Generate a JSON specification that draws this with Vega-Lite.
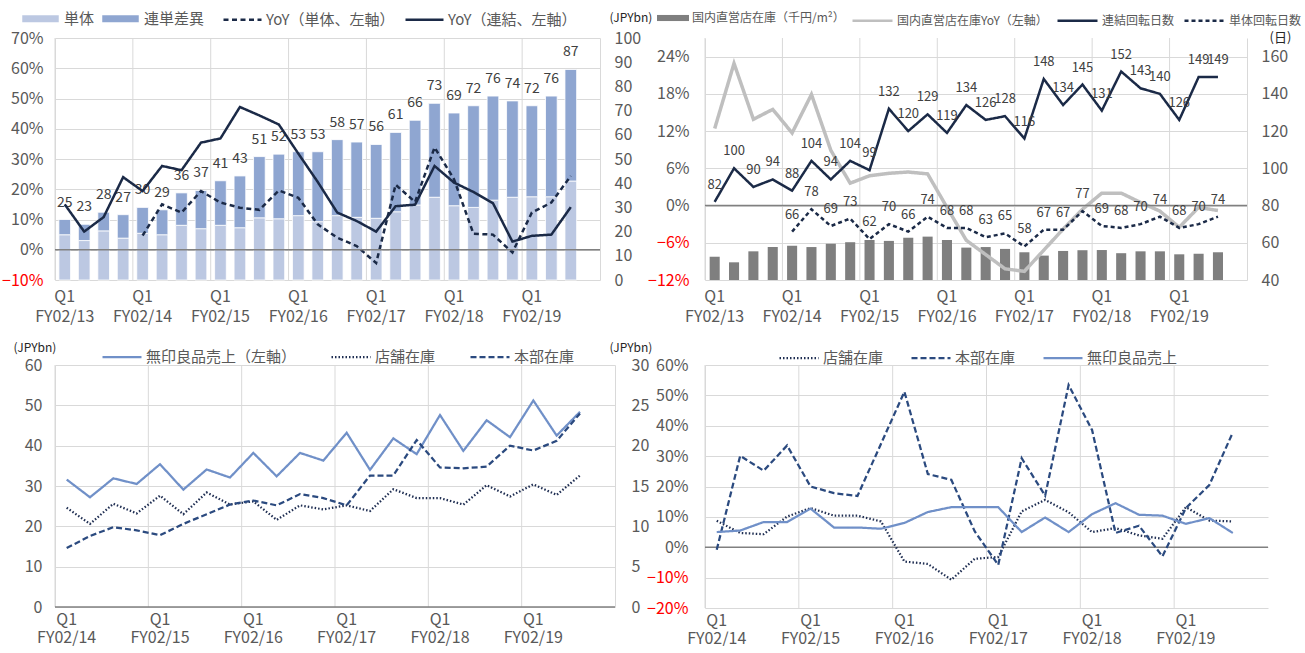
{
  "$schema": "https://vega.github.io/schema/vega-lite/v6.json",
  "background": "white",
  "padding": {"left": 1, "top": -1, "right": 5, "bottom": 0},
  "config": {
    "font": "Noto Sans CJK JP",
    "view": {"stroke": null},
    "axis": {"labelFont": "Noto Sans CJK JP", "labelFontSize": 16, "labelColor": "#595959", "ticks": false, "domain": false, "grid": false, "gridColor": "#D9D9D9", "titleFont": "Noto Sans CJK JP", "titleFontWeight": "normal", "titleColor": "#262626", "titleFontSize": 12, "labelOverlap": false, "labelBound": false},
    "legend": {"labelFont": "Noto Sans CJK JP", "labelColor": "#595959", "labelFontSize": 16, "orient": "none", "direction": "horizontal", "labelOffset": 4},
    "text": {"font": "Noto Sans CJK JP"}
  },
  "datasets": {
    "tl": [
      {"q":"FY02/13 Q1","単体":18.7,"連単差異":6.3,"t":25,"YoY（単体、左軸）":null,"YoY（連結、左軸）":0.15},
      {"q":"FY02/13 Q2","単体":16.3,"連単差異":6.7,"t":23,"YoY（単体、左軸）":null,"YoY（連結、左軸）":0.06},
      {"q":"FY02/13 Q3","単体":20.3,"連単差異":7.7,"t":28,"YoY（単体、左軸）":null,"YoY（連結、左軸）":0.108},
      {"q":"FY02/13 Q4","単体":17.3,"連単差異":9.7,"t":27,"YoY（単体、左軸）":null,"YoY（連結、左軸）":0.24},
      {"q":"FY02/14 Q1","単体":19.3,"連単差異":10.7,"t":30,"YoY（単体、左軸）":0.047,"YoY（連結、左軸）":0.194},
      {"q":"FY02/14 Q2","単体":18.7,"連単差異":10.3,"t":29,"YoY（単体、左軸）":0.15,"YoY（連結、左軸）":0.277},
      {"q":"FY02/14 Q3","単体":22.6,"連単差異":13.4,"t":36,"YoY（単体、左軸）":0.123,"YoY（連結、左軸）":0.263},
      {"q":"FY02/14 Q4","単体":21.2,"連単差異":15.8,"t":37,"YoY（単体、左軸）":0.194,"YoY（連結、左軸）":0.354},
      {"q":"FY02/15 Q1","単体":22.6,"連単差異":18.4,"t":41,"YoY（単体、左軸）":0.156,"YoY（連結、左軸）":0.368},
      {"q":"FY02/15 Q2","単体":21.6,"連単差異":21.4,"t":43,"YoY（単体、左軸）":0.139,"YoY（連結、左軸）":0.472},
      {"q":"FY02/15 Q3","単体":25.7,"連単差異":25.3,"t":51,"YoY（単体、左軸）":0.132,"YoY（連結、左軸）":0.444},
      {"q":"FY02/15 Q4","単体":25.3,"連単差異":26.7,"t":52,"YoY（単体、左軸）":0.196,"YoY（連結、左軸）":0.414},
      {"q":"FY02/16 Q1","単体":26.6,"連単差異":26.4,"t":53,"YoY（単体、左軸）":0.172,"YoY（連結、左軸）":0.318},
      {"q":"FY02/16 Q2","単体":24.1,"連単差異":28.9,"t":53,"YoY（単体、左軸）":0.084,"YoY（連結、左軸）":0.224},
      {"q":"FY02/16 Q3","単体":26.6,"連単差異":31.4,"t":58,"YoY（単体、左軸）":0.04,"YoY（連結、左軸）":0.123},
      {"q":"FY02/16 Q4","単体":25.9,"連単差異":31.1,"t":57,"YoY（単体、左軸）":0.012,"YoY（連結、左軸）":0.095},
      {"q":"FY02/17 Q1","単体":25.5,"連単差異":30.5,"t":56,"YoY（単体、左軸）":-0.044,"YoY（連結、左軸）":0.06},
      {"q":"FY02/17 Q2","単体":28.2,"連単差異":32.8,"t":61,"YoY（単体、左軸）":0.215,"YoY（連結、左軸）":0.144},
      {"q":"FY02/17 Q3","単体":31,"連単差異":35,"t":66,"YoY（単体、左軸）":0.158,"YoY（連結、左軸）":0.149},
      {"q":"FY02/17 Q4","単体":34.2,"連単差異":38.8,"t":73,"YoY（単体、左軸）":0.338,"YoY（連結、左軸）":0.277},
      {"q":"FY02/18 Q1","単体":30.7,"連単差異":38.3,"t":69,"YoY（単体、左軸）":0.233,"YoY（連結、左軸）":0.222},
      {"q":"FY02/18 Q2","単体":30,"連単差異":42,"t":72,"YoY（単体、左軸）":0.053,"YoY（連結、左軸）":0.191},
      {"q":"FY02/18 Q3","単体":33,"連単差異":43,"t":76,"YoY（単体、左軸）":0.05,"YoY（連結、左軸）":0.154},
      {"q":"FY02/18 Q4","単体":34.2,"連単差異":39.8,"t":74,"YoY（単体、左軸）":-0.009,"YoY（連結、左軸）":0.027},
      {"q":"FY02/19 Q1","単体":34.4,"連単差異":37.6,"t":72,"YoY（単体、左軸）":0.123,"YoY（連結、左軸）":0.046},
      {"q":"FY02/19 Q2","単体":34.4,"連単差異":41.6,"t":76,"YoY（単体、左軸）":0.156,"YoY（連結、左軸）":0.05},
      {"q":"FY02/19 Q3","単体":40.9,"連単差異":46.1,"t":87,"YoY（単体、左軸）":0.244,"YoY（連結、左軸）":0.141}
    ],
    "tr": [
      {"q":"FY02/13 Q1","国内直営店在庫（千円/m²）":52.5,"国内直営店在庫YoY（左軸）":0.124,"連結回転日数":82,"単体回転日数":null},
      {"q":"FY02/13 Q2","国内直営店在庫（千円/m²）":49.5,"国内直営店在庫YoY（左軸）":0.229,"連結回転日数":100,"単体回転日数":null},
      {"q":"FY02/13 Q3","国内直営店在庫（千円/m²）":55.4,"国内直営店在庫YoY（左軸）":0.139,"連結回転日数":90,"単体回転日数":null},
      {"q":"FY02/13 Q4","国内直営店在庫（千円/m²）":57.7,"国内直営店在庫YoY（左軸）":0.155,"連結回転日数":94,"単体回転日数":null},
      {"q":"FY02/14 Q1","国内直営店在庫（千円/m²）":58.4,"国内直営店在庫YoY（左軸）":0.117,"連結回転日数":88,"単体回転日数":66},
      {"q":"FY02/14 Q2","国内直営店在庫（千円/m²）":57.7,"国内直営店在庫YoY（左軸）":0.179,"連結回転日数":104,"単体回転日数":78},
      {"q":"FY02/14 Q3","国内直営店在庫（千円/m²）":59.5,"国内直営店在庫YoY（左軸）":0.089,"連結回転日数":94,"単体回転日数":69},
      {"q":"FY02/14 Q4","国内直営店在庫（千円/m²）":60.3,"国内直営店在庫YoY（左軸）":0.036,"連結回転日数":104,"単体回転日数":73},
      {"q":"FY02/15 Q1","国内直営店在庫（千円/m²）":61.5,"国内直営店在庫YoY（左軸）":0.048,"連結回転日数":99,"単体回転日数":62},
      {"q":"FY02/15 Q2","国内直営店在庫（千円/m²）":61,"国内直営店在庫YoY（左軸）":0.052,"連結回転日数":132,"単体回転日数":70},
      {"q":"FY02/15 Q3","国内直営店在庫（千円/m²）":62.7,"国内直営店在庫YoY（左軸）":0.054,"連結回転日数":120,"単体回転日数":66},
      {"q":"FY02/15 Q4","国内直営店在庫（千円/m²）":63.3,"国内直営店在庫YoY（左軸）":0.051,"連結回転日数":129,"単体回転日数":74},
      {"q":"FY02/16 Q1","国内直営店在庫（千円/m²）":61.5,"国内直営店在庫YoY（左軸）":-0.003,"連結回転日数":119,"単体回転日数":68},
      {"q":"FY02/16 Q2","国内直営店在庫（千円/m²）":57.4,"国内直営店在庫YoY（左軸）":-0.056,"連結回転日数":134,"単体回転日数":68},
      {"q":"FY02/16 Q3","国内直営店在庫（千円/m²）":57.7,"国内直営店在庫YoY（左軸）":-0.079,"連結回転日数":126,"単体回転日数":63},
      {"q":"FY02/16 Q4","国内直営店在庫（千円/m²）":56.7,"国内直営店在庫YoY（左軸）":-0.102,"連結回転日数":128,"単体回転日数":65},
      {"q":"FY02/17 Q1","国内直営店在庫（千円/m²）":54.9,"国内直営店在庫YoY（左軸）":-0.106,"連結回転日数":116,"単体回転日数":58},
      {"q":"FY02/17 Q2","国内直営店在庫（千円/m²）":53.1,"国内直営店在庫YoY（左軸）":-0.072,"連結回転日数":148,"単体回転日数":67},
      {"q":"FY02/17 Q3","国内直営店在庫（千円/m²）":55.6,"国内直営店在庫YoY（左軸）":-0.038,"連結回転日数":134,"単体回転日数":67},
      {"q":"FY02/17 Q4","国内直営店在庫（千円/m²）":56,"国内直営店在庫YoY（左軸）":-0.006,"連結回転日数":145,"単体回転日数":77},
      {"q":"FY02/18 Q1","国内直営店在庫（千円/m²）":56.1,"国内直営店在庫YoY（左軸）":0.02,"連結回転日数":131,"単体回転日数":69},
      {"q":"FY02/18 Q2","国内直営店在庫（千円/m²）":54.4,"国内直営店在庫YoY（左軸）":0.02,"連結回転日数":152,"単体回転日数":68},
      {"q":"FY02/18 Q3","国内直営店在庫（千円/m²）":55.4,"国内直営店在庫YoY（左軸）":0.005,"連結回転日数":143,"単体回転日数":70},
      {"q":"FY02/18 Q4","国内直営店在庫（千円/m²）":55.4,"国内直営店在庫YoY（左軸）":-0.009,"連結回転日数":140,"単体回転日数":74},
      {"q":"FY02/19 Q1","国内直営店在庫（千円/m²）":53.8,"国内直営店在庫YoY（左軸）":-0.035,"連結回転日数":126,"単体回転日数":68},
      {"q":"FY02/19 Q2","国内直営店在庫（千円/m²）":54.1,"国内直営店在庫YoY（左軸）":-0.003,"連結回転日数":149,"単体回転日数":70},
      {"q":"FY02/19 Q3","国内直営店在庫（千円/m²）":54.9,"国内直営店在庫YoY（左軸）":-0.008,"連結回転日数":149,"単体回転日数":74}
    ],
    "bl": [
      {"q":"FY02/14 Q1","無印良品売上（左軸）":31.6,"店舗在庫":12.3,"本部在庫":7.3},
      {"q":"FY02/14 Q2","無印良品売上（左軸）":27.2,"店舗在庫":10.3,"本部在庫":8.8},
      {"q":"FY02/14 Q3","無印良品売上（左軸）":31.9,"店舗在庫":12.8,"本部在庫":9.9},
      {"q":"FY02/14 Q4","無印良品売上（左軸）":30.5,"店舗在庫":11.6,"本部在庫":9.5},
      {"q":"FY02/15 Q1","無印良品売上（左軸）":35.4,"店舗在庫":13.8,"本部在庫":8.9},
      {"q":"FY02/15 Q2","無印良品売上（左軸）":29.1,"店舗在庫":11.5,"本部在庫":10.3},
      {"q":"FY02/15 Q3","無印良品売上（左軸）":34.1,"店舗在庫":14.2,"本部在庫":11.5},
      {"q":"FY02/15 Q4","無印良品売上（左軸）":32.1,"店舗在庫":12.7,"本部在庫":12.7},
      {"q":"FY02/16 Q1","無印良品売上（左軸）":38.2,"店舗在庫":13.1,"本部在庫":13.2},
      {"q":"FY02/16 Q2","無印良品売上（左軸）":32.4,"店舗在庫":10.8,"本部在庫":12.6},
      {"q":"FY02/16 Q3","無印良品売上（左軸）":38.2,"店舗在庫":12.6,"本部在庫":14.0},
      {"q":"FY02/16 Q4","無印良品売上（左軸）":36.3,"店舗在庫":12.1,"本部在庫":13.5},
      {"q":"FY02/17 Q1","無印良品売上（左軸）":43.2,"店舗在庫":12.6,"本部在庫":12.6},
      {"q":"FY02/17 Q2","無印良品売上（左軸）":34.0,"店舗在庫":11.9,"本部在庫":16.3},
      {"q":"FY02/17 Q3","無印良品売上（左軸）":41.8,"店舗在庫":14.6,"本部在庫":16.3},
      {"q":"FY02/17 Q4","無印良品売上（左軸）":37.9,"店舗在庫":13.5,"本部在庫":20.7},
      {"q":"FY02/18 Q1","無印良品売上（左軸）":47.6,"店舗在庫":13.5,"本部在庫":17.3},
      {"q":"FY02/18 Q2","無印良品売上（左軸）":38.7,"店舗在庫":12.7,"本部在庫":17.2},
      {"q":"FY02/18 Q3","無印良品売上（左軸）":46.3,"店舗在庫":15.1,"本部在庫":17.4},
      {"q":"FY02/18 Q4","無印良品売上（左軸）":42.1,"店舗在庫":13.7,"本部在庫":20.0},
      {"q":"FY02/19 Q1","無印良品売上（左軸）":51.2,"店舗在庫":15.2,"本部在庫":19.4},
      {"q":"FY02/19 Q2","無印良品売上（左軸）":42.5,"店舗在庫":13.9,"本部在庫":20.6},
      {"q":"FY02/19 Q3","無印良品売上（左軸）":48.4,"店舗在庫":16.3,"本部在庫":24.0}
    ],
    "br": [
      {"q":"FY02/14 Q1","店舗在庫":0.087,"本部在庫":-0.008,"無印良品売上":0.05},
      {"q":"FY02/14 Q2","店舗在庫":0.047,"本部在庫":0.301,"無印良品売上":0.055},
      {"q":"FY02/14 Q3","店舗在庫":0.043,"本部在庫":0.252,"無印良品売上":0.083},
      {"q":"FY02/14 Q4","店舗在庫":0.101,"本部在庫":0.335,"無印良品売上":0.083},
      {"q":"FY02/15 Q1","店舗在庫":0.129,"本部在庫":0.2,"無印良品売上":0.127},
      {"q":"FY02/15 Q2","店舗在庫":0.104,"本部在庫":0.178,"無印良品売上":0.065},
      {"q":"FY02/15 Q3","店舗在庫":0.104,"本部在庫":0.169,"無印良品売上":0.065},
      {"q":"FY02/15 Q4","店舗在庫":0.085,"本部在庫":0.34,"無印良品売上":0.061},
      {"q":"FY02/16 Q1","店舗在庫":-0.047,"本部在庫":0.512,"無印良品売上":0.08},
      {"q":"FY02/16 Q2","店舗在庫":-0.055,"本部在庫":0.241,"無印良品売上":0.116},
      {"q":"FY02/16 Q3","店舗在庫":-0.107,"本部在庫":0.222,"無印良品売上":0.132},
      {"q":"FY02/16 Q4","店舗在庫":-0.038,"本部在庫":0.052,"無印良品売上":0.132},
      {"q":"FY02/17 Q1","店舗在庫":-0.032,"本部在庫":-0.058,"無印良品売上":0.132},
      {"q":"FY02/17 Q2","店舗在庫":0.118,"本部在庫":0.293,"無印良品売上":0.05},
      {"q":"FY02/17 Q3","店舗在庫":0.156,"本部在庫":0.17,"無印良品売上":0.098},
      {"q":"FY02/17 Q4","店舗在庫":0.115,"本部在庫":0.534,"無印良品売上":0.05},
      {"q":"FY02/18 Q1","店舗在庫":0.05,"本部在庫":0.386,"無印良品売上":0.109},
      {"q":"FY02/18 Q2","店舗在庫":0.063,"本部在庫":0.047,"無印良品売上":0.145},
      {"q":"FY02/18 Q3","店舗在庫":0.039,"本部在庫":0.071,"無印良品売上":0.107},
      {"q":"FY02/18 Q4","店舗在庫":0.028,"本部在庫":-0.03,"無印良品売上":0.104},
      {"q":"FY02/19 Q1","店舗在庫":0.132,"本部在庫":0.129,"無印良品売上":0.077},
      {"q":"FY02/19 Q2","店舗在庫":0.088,"本部在庫":0.205,"無印良品売上":0.096},
      {"q":"FY02/19 Q3","店舗在庫":0.085,"本部在庫":0.378,"無印良品売上":0.047}
    ]
  },
  "resolve": {"scale": {"fill": "independent", "stroke": "independent", "strokeDash": "independent"}},
  "columns": 1,
  "align": "none",
  "spacing": {"row": 12, "column": 0},
  "concat": [
    {
      "spacing": -5,
      "resolve": {"scale": {"fill": "independent", "stroke": "independent", "strokeDash": "independent"}},
      "hconcat": [
        {
          "width": 545, "height": 242,
          "data": {"name": "tl"},
          "resolve": {"scale": {"y": "independent"}},
          "layer": [
            {"layer": [
              {"transform": [{"filter": "indexof(datum.q, 'Q1') >= 0"}],
               "mark": {"type": "rule", "color": "#D9D9D9", "strokeWidth": 1},
               "encoding": {"x": {"field": "q", "type": "nominal", "bandPosition": 0, "title": null, "scale": {"type": "band", "paddingInner": 0, "paddingOuter": 0, "domain": ["FY02/13 Q1","FY02/13 Q2","FY02/13 Q3","FY02/13 Q4","FY02/14 Q1","FY02/14 Q2","FY02/14 Q3","FY02/14 Q4","FY02/15 Q1","FY02/15 Q2","FY02/15 Q3","FY02/15 Q4","FY02/16 Q1","FY02/16 Q2","FY02/16 Q3","FY02/16 Q4","FY02/17 Q1","FY02/17 Q2","FY02/17 Q3","FY02/17 Q4","FY02/18 Q1","FY02/18 Q2","FY02/18 Q3","FY02/18 Q4","FY02/19 Q1","FY02/19 Q2","FY02/19 Q3","FY02/19 Q4"]},
                 "axis": {"values": ["FY02/13 Q1","FY02/14 Q1","FY02/15 Q1","FY02/16 Q1","FY02/17 Q1","FY02/18 Q1","FY02/19 Q1"], "labelExpr": "['Q1', slice(datum.value, 0, 7)]", "labelAngle": 0, "labelPadding": 8, "labelLineHeight": 20, "labelAlign": "center", "labelBaseline": "top", "grid": false, "labelOverlap": false}}}},
              {"transform": [{"fold": ["単体", "連単差異"], "as": ["s", "v"]}],
               "mark": {"type": "bar", "width": {"band": 0.6}, "stroke": "white", "strokeWidth": 0.8},
               "encoding": {
                 "x": {"field": "q", "type": "nominal", "title": null},
                 "y": {"field": "v", "type": "quantitative", "stack": "zero", "scale": {"domain": [0, 100], "nice": false},
                   "axis": {"orient": "right", "values": [0,10,20,30,40,50,60,70,80,90,100], "tickCount": 40, "labelOverlap": false, "domain": true, "domainColor": "#D9D9D9", "grid": false, "labelPadding": 14, "title": "(JPYbn)", "titleAngle": 0, "titleX": 9, "titleY": -21, "titleAlign": "left", "titleBaseline": "middle"}},
                 "fill": {"field": "s", "type": "nominal", "scale": {"domain": ["単体", "連単差異"], "range": ["#BCC8E2", "#8FA6D1"]},
                   "legend": {"title": null, "orient": "none", "legendX": -33, "legendY": -38, "direction": "horizontal", "symbolType": "M-1,-0.19H1V0.19H-1Z", "symbolSize": 1332, "symbolStrokeWidth": 0, "labelFontSize": 15, "columnPadding": 7, "labelOffset": 5}},
                 "order": {"field": "s", "sort": "ascending"}
               }},
              {"mark": {"type": "text", "dy": -17, "fontSize": 14, "fill": "#404040"},
               "encoding": {"x": {"field": "q", "type": "nominal"}, "y": {"field": "t", "type": "quantitative"}, "text": {"field": "t", "type": "quantitative"}}}
            ]},
            {"layer": [
              {"transform": [{"fold": ["YoY（単体、左軸）", "YoY（連結、左軸）"], "as": ["s", "v"]}],
               "mark": {"type": "line", "strokeWidth": 2.5},
               "encoding": {
                 "x": {"field": "q", "type": "nominal"},
                 "y": {"field": "v", "type": "quantitative", "scale": {"domain": [-0.1, 0.7], "nice": false},
                   "axis": {"orient": "left", "values": [-0.1,0,0.1,0.2,0.3,0.4,0.5,0.6,0.7], "tickCount": 40, "labelOverlap": false, "format": ".0%", "grid": true, "domain": true, "domainColor": "#D9D9D9", "labelPadding": 12, "title": null,
                     "labelColor": {"condition": {"test": "datum.value < 0", "value": "#FF0000"}, "value": "#595959"}}},
                 "stroke": {"field": "s", "type": "nominal", "scale": {"domain": ["YoY（単体、左軸）", "YoY（連結、左軸）"], "range": ["#1B2A47", "#1B2A47"]},
                   "legend": {"title": null, "orient": "none", "legendX": 167, "legendY": -39, "direction": "horizontal", "symbolType": "stroke", "symbolSize": 1444, "symbolStrokeWidth": 2.5, "labelFontSize": 15, "columnPadding": 5, "labelOffset": 3}},
                 "strokeDash": {"field": "s", "type": "nominal", "scale": {"domain": ["YoY（単体、左軸）", "YoY（連結、左軸）"], "range": [[5, 3.5], [1, 0]]},
                   "legend": {"title": null, "orient": "none", "legendX": 167, "legendY": -39, "direction": "horizontal", "symbolType": "stroke", "symbolSize": 1444, "symbolStrokeWidth": 2.5, "labelFontSize": 15, "columnPadding": 5, "labelOffset": 3}}
               }},
              {"data": {"values": [{"z": 0}]},
               "mark": {"type": "rule", "color": "#808080", "strokeWidth": 1.5},
               "encoding": {"y": {"datum": 0}}}
            ]}
          ]
        },
        {
          "width": 542, "height": 242,
          "data": {"name": "tr"},
          "resolve": {"scale": {"y": "independent"}},
          "layer": [
            {"layer": [
              {"transform": [{"filter": "indexof(datum.q, 'Q1') >= 0"}],
               "mark": {"type": "rule", "color": "#D9D9D9", "strokeWidth": 1},
               "encoding": {"x": {"field": "q", "type": "nominal", "bandPosition": 0, "title": null, "scale": {"type": "band", "paddingInner": 0, "paddingOuter": 0, "domain": ["FY02/13 Q1","FY02/13 Q2","FY02/13 Q3","FY02/13 Q4","FY02/14 Q1","FY02/14 Q2","FY02/14 Q3","FY02/14 Q4","FY02/15 Q1","FY02/15 Q2","FY02/15 Q3","FY02/15 Q4","FY02/16 Q1","FY02/16 Q2","FY02/16 Q3","FY02/16 Q4","FY02/17 Q1","FY02/17 Q2","FY02/17 Q3","FY02/17 Q4","FY02/18 Q1","FY02/18 Q2","FY02/18 Q3","FY02/18 Q4","FY02/19 Q1","FY02/19 Q2","FY02/19 Q3","FY02/19 Q4"]},
                 "axis": {"values": ["FY02/13 Q1","FY02/14 Q1","FY02/15 Q1","FY02/16 Q1","FY02/17 Q1","FY02/18 Q1","FY02/19 Q1"], "labelExpr": "['Q1', slice(datum.value, 0, 7)]", "labelAngle": 0, "labelPadding": 8, "labelLineHeight": 20, "labelAlign": "center", "labelBaseline": "top", "grid": false, "labelOverlap": false}}}},
              {"transform": [{"fold": ["国内直営店在庫（千円/m²）"], "as": ["s", "v"]}],
               "mark": {"type": "bar", "width": {"band": 0.52}},
               "encoding": {
                 "x": {"field": "q", "type": "nominal"},
                 "y": {"field": "v", "type": "quantitative", "scale": {"domain": [40, 170], "nice": false, "zero": false},
                   "axis": {"orient": "right", "values": [40,60,80,100,120,140,160], "tickCount": 40, "labelOverlap": false, "domain": true, "domainColor": "#D9D9D9", "grid": false, "labelPadding": 14, "title": "(日)", "titleFontSize": 13, "titleAngle": 0, "titleX": 22, "titleY": -1, "titleAlign": "left", "titleBaseline": "middle"}},
                 "y2": {"datum": 40},
                 "fill": {"field": "s", "type": "nominal", "scale": {"domain": ["国内直営店在庫（千円/m²）"], "range": ["#7F7F7F"]},
                   "legend": {"title": null, "orient": "none", "legendX": -48, "legendY": -36, "direction": "horizontal", "symbolType": "M-1,-0.19H1V0.19H-1Z", "symbolSize": 1024, "symbolStrokeWidth": 0, "labelFontSize": 12, "labelOffset": 3}}
               }}
            ]},
            {"layer": [
              {"transform": [{"fold": ["国内直営店在庫YoY（左軸）"], "as": ["s", "v"]}],
               "mark": {"type": "line", "strokeWidth": 3.5},
               "encoding": {
                 "x": {"field": "q", "type": "nominal"},
                 "y": {"field": "v", "type": "quantitative", "scale": {"domain": [-0.12, 0.27], "nice": false},
                   "axis": {"orient": "left", "values": [-0.12,-0.06,0,0.06,0.12,0.18,0.24], "tickCount": 40, "labelOverlap": false, "format": ".0%", "grid": true, "domain": true, "domainColor": "#D9D9D9", "labelPadding": 16, "title": null,
                     "labelColor": {"condition": {"test": "datum.value < 0", "value": "#FF0000"}, "value": "#595959"}}},
                 "stroke": {"field": "s", "type": "nominal", "scale": {"domain": ["国内直営店在庫YoY（左軸）", "連結回転日数", "単体回転日数"], "range": ["#BFBFBF", "#1B2A47", "#1B2A47"]},
                   "legend": {"title": null, "orient": "none", "legendX": 146, "legendY": -39, "direction": "horizontal", "symbolType": "stroke", "symbolSize": 1600, "symbolStrokeWidth": 2.5, "labelFontSize": 12, "columnPadding": 4, "labelOffset": 3}},
                 "strokeDash": {"field": "s", "type": "nominal", "scale": {"domain": ["国内直営店在庫YoY（左軸）", "連結回転日数", "単体回転日数"], "range": [[1, 0], [1, 0], [4, 3]]},
                   "legend": {"title": null, "orient": "none", "legendX": 146, "legendY": -39, "direction": "horizontal", "symbolType": "stroke", "symbolSize": 1600, "symbolStrokeWidth": 2.5, "labelFontSize": 12, "columnPadding": 4, "labelOffset": 3}}
               }},
              {"data": {"values": [{"z": 0}]},
               "mark": {"type": "rule", "color": "#808080", "strokeWidth": 1.5},
               "encoding": {"y": {"datum": 0}}}
            ]},
            {"layer": [
              {"transform": [{"fold": ["連結回転日数", "単体回転日数"], "as": ["s", "v"]}],
               "mark": {"type": "line", "strokeWidth": 2.5},
               "encoding": {
                 "x": {"field": "q", "type": "nominal"},
                 "y": {"field": "v", "type": "quantitative", "scale": {"domain": [40, 170], "nice": false, "zero": false}, "axis": null},
                 "stroke": {"field": "s", "type": "nominal", "scale": {"domain": ["国内直営店在庫YoY（左軸）", "連結回転日数", "単体回転日数"], "range": ["#BFBFBF", "#1B2A47", "#1B2A47"]}},
                 "strokeDash": {"field": "s", "type": "nominal", "scale": {"domain": ["国内直営店在庫YoY（左軸）", "連結回転日数", "単体回転日数"], "range": [[1, 0], [1, 0], [4, 3]]}}
               }},
              {"transform": [{"fold": ["連結回転日数", "単体回転日数"], "as": ["s", "v"]}],
               "mark": {"type": "text", "dy": -17, "fontSize": 13, "fill": "#404040"},
               "encoding": {
                 "x": {"field": "q", "type": "nominal"},
                 "y": {"field": "v", "type": "quantitative"},
                 "text": {"field": "v", "type": "quantitative"}
               }}
            ]}
          ]
        }
      ]
    },
    {
      "spacing": -6,
      "resolve": {"scale": {"fill": "independent", "stroke": "independent", "strokeDash": "independent"}},
      "hconcat": [
        {
          "width": 560, "height": 242,
          "data": {"name": "bl"},
          "resolve": {"scale": {"y": "independent"}},
          "layer": [
            {"layer": [
              {"transform": [{"filter": "indexof(datum.q, 'Q1') >= 0"}],
               "mark": {"type": "rule", "color": "#D9D9D9", "strokeWidth": 1},
               "encoding": {"x": {"field": "q", "type": "nominal", "bandPosition": 0, "title": null, "scale": {"type": "band", "paddingInner": 0, "paddingOuter": 0, "domain": ["FY02/14 Q1","FY02/14 Q2","FY02/14 Q3","FY02/14 Q4","FY02/15 Q1","FY02/15 Q2","FY02/15 Q3","FY02/15 Q4","FY02/16 Q1","FY02/16 Q2","FY02/16 Q3","FY02/16 Q4","FY02/17 Q1","FY02/17 Q2","FY02/17 Q3","FY02/17 Q4","FY02/18 Q1","FY02/18 Q2","FY02/18 Q3","FY02/18 Q4","FY02/19 Q1","FY02/19 Q2","FY02/19 Q3","FY02/19 Q4"]},
                 "axis": {"values": ["FY02/14 Q1","FY02/15 Q1","FY02/16 Q1","FY02/17 Q1","FY02/18 Q1","FY02/19 Q1"], "labelExpr": "['Q1', slice(datum.value, 0, 7)]", "labelAngle": 0, "labelPadding": 4, "labelLineHeight": 18, "labelAlign": "center", "labelBaseline": "top", "grid": false, "labelOverlap": false}}}},
              {"transform": [{"fold": ["無印良品売上（左軸）"], "as": ["s", "v"]}],
               "mark": {"type": "line", "strokeWidth": 2.25},
               "encoding": {
                 "x": {"field": "q", "type": "nominal"},
                 "y": {"field": "v", "type": "quantitative", "scale": {"domain": [0, 60], "nice": false},
                   "axis": {"orient": "left", "values": [0,10,20,30,40,50,60], "tickCount": 40, "labelOverlap": false, "grid": true, "domain": true, "domainColor": "#D9D9D9", "labelPadding": 13, "title": "(JPYbn)", "titleAngle": 0, "titleX": -42, "titleY": -18, "titleAlign": "left", "titleBaseline": "middle"}},
                 "stroke": {"field": "s", "type": "nominal", "scale": {"domain": ["無印良品売上（左軸）", "店舗在庫", "本部在庫"], "range": ["#7090C8", "#1F2E52", "#2B4A7F"]},
                   "legend": {"title": null, "orient": "none", "legendX": 46, "legendY": -29, "direction": "horizontal", "symbolType": "stroke", "symbolSize": 1521, "symbolStrokeWidth": 2.25, "labelFontSize": 15, "columnPadding": 30, "labelOffset": 3}},
                 "strokeDash": {"field": "s", "type": "nominal", "scale": {"domain": ["無印良品売上（左軸）", "店舗在庫", "本部在庫"], "range": [[1, 0], [1.5, 2], [6, 3]]},
                   "legend": {"title": null, "orient": "none", "legendX": 46, "legendY": -29, "direction": "horizontal", "symbolType": "stroke", "symbolSize": 1521, "symbolStrokeWidth": 2.25, "labelFontSize": 15, "columnPadding": 30, "labelOffset": 3}}
               }},
              {"data": {"values": [{"z": 0}]},
               "mark": {"type": "rule", "color": "#808080", "strokeWidth": 1.5},
               "encoding": {"y": {"datum": 0}}}
            ]},
            {"layer": [
              {"transform": [{"fold": ["店舗在庫", "本部在庫"], "as": ["s", "v"]}],
               "mark": {"type": "line", "strokeWidth": 2.25},
               "encoding": {
                 "x": {"field": "q", "type": "nominal"},
                 "y": {"field": "v", "type": "quantitative", "scale": {"domain": [0, 30], "nice": false},
                   "axis": {"orient": "right", "values": [0,5,10,15,20,25,30], "tickCount": 40, "labelOverlap": false, "grid": false, "domain": true, "domainColor": "#D9D9D9", "labelPadding": 16, "title": "(JPYbn)", "titleAngle": 0, "titleX": -6, "titleY": -18, "titlePadding": -22, "titleAlign": "left", "titleBaseline": "middle"}},
                 "stroke": {"field": "s", "type": "nominal", "scale": {"domain": ["無印良品売上（左軸）", "店舗在庫", "本部在庫"], "range": ["#7090C8", "#1F2E52", "#2B4A7F"]}},
                 "strokeDash": {"field": "s", "type": "nominal", "scale": {"domain": ["無印良品売上（左軸）", "店舗在庫", "本部在庫"], "range": [[1, 0], [1.5, 2], [6, 3]]}}
               }}
            ]}
          ]
        },
        {
          "width": 563, "height": 243,
          "data": {"name": "br"},
          "layer": [
            {"transform": [{"filter": "indexof(datum.q, 'Q1') >= 0"}],
             "mark": {"type": "rule", "color": "#D9D9D9", "strokeWidth": 1},
             "encoding": {"x": {"field": "q", "type": "nominal", "bandPosition": 0, "title": null, "scale": {"type": "band", "paddingInner": 0, "paddingOuter": 0, "domain": ["FY02/14 Q1","FY02/14 Q2","FY02/14 Q3","FY02/14 Q4","FY02/15 Q1","FY02/15 Q2","FY02/15 Q3","FY02/15 Q4","FY02/16 Q1","FY02/16 Q2","FY02/16 Q3","FY02/16 Q4","FY02/17 Q1","FY02/17 Q2","FY02/17 Q3","FY02/17 Q4","FY02/18 Q1","FY02/18 Q2","FY02/18 Q3","FY02/18 Q4","FY02/19 Q1","FY02/19 Q2","FY02/19 Q3","FY02/19 Q4"]},
               "axis": {"values": ["FY02/14 Q1","FY02/15 Q1","FY02/16 Q1","FY02/17 Q1","FY02/18 Q1","FY02/19 Q1"], "labelExpr": "['Q1', slice(datum.value, 0, 7)]", "labelAngle": 0, "labelPadding": 4, "labelLineHeight": 18, "labelAlign": "center", "labelBaseline": "top", "grid": false, "labelOverlap": false}}}},
            {"data": {"values": [{"z": 0}]},
             "mark": {"type": "rule", "color": "#808080", "strokeWidth": 1.5},
             "encoding": {"y": {"datum": 0}}},
            {"transform": [{"fold": ["店舗在庫", "本部在庫", "無印良品売上"], "as": ["s", "v"]}],
             "mark": {"type": "line", "strokeWidth": 2.25},
             "encoding": {
               "x": {"field": "q", "type": "nominal"},
               "y": {"field": "v", "type": "quantitative", "scale": {"domain": [-0.2, 0.6], "nice": false},
                 "axis": {"orient": "left", "values": [-0.2,-0.1,0,0.1,0.2,0.3,0.4,0.5,0.6], "tickCount": 40, "labelOverlap": false, "format": ".0%", "grid": true, "domain": true, "domainColor": "#D9D9D9", "labelPadding": 17, "title": null,
                   "labelColor": {"condition": {"test": "datum.value < 0", "value": "#FF0000"}, "value": "#595959"}}},
               "stroke": {"field": "s", "type": "nominal", "scale": {"domain": ["店舗在庫", "本部在庫", "無印良品売上"], "range": ["#1F2E52", "#2B4A7F", "#7090C8"]},
                 "legend": {"title": null, "orient": "none", "legendX": 73, "legendY": -28, "direction": "horizontal", "symbolType": "stroke", "symbolSize": 1521, "symbolStrokeWidth": 2.25, "labelFontSize": 15, "columnPadding": 23, "labelOffset": 3}},
               "strokeDash": {"field": "s", "type": "nominal", "scale": {"domain": ["店舗在庫", "本部在庫", "無印良品売上"], "range": [[1.5, 2], [6, 3], [1, 0]]},
                 "legend": {"title": null, "orient": "none", "legendX": 73, "legendY": -28, "direction": "horizontal", "symbolType": "stroke", "symbolSize": 1521, "symbolStrokeWidth": 2.25, "labelFontSize": 15, "columnPadding": 23, "labelOffset": 3}}
             }}
          ]
        }
      ]
    }
  ]
}
